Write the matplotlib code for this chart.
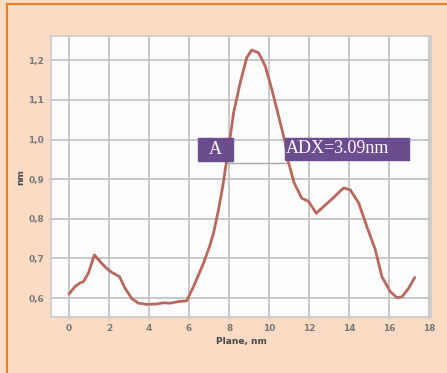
import matplotlib
matplotlib.use("Agg")
import matplotlib.pyplot as plt
from matplotlib.patches import Rectangle
from matplotlib.lines import Line2D
from matplotlib.ticker import FuncFormatter

# Height profile along the plane
plane_nm = [0.0, 0.3, 0.55, 0.72, 0.97, 1.27, 1.55, 1.88, 2.13, 2.52, 2.8, 3.13,
            3.47, 3.88, 4.38, 4.72, 5.05, 5.47, 5.88, 6.22, 6.72, 7.02, 7.22,
            7.47, 7.68, 7.83, 7.95, 8.22, 8.55, 8.88, 9.13, 9.47, 9.8, 10.13,
            10.47, 10.8, 10.95, 11.25, 11.63, 11.97, 12.35, 13.05, 13.72,
            14.05, 14.47, 14.88, 15.3, 15.63, 16.05, 16.38, 16.63, 16.97, 17.27]
height_nm = [0.610, 0.629, 0.638, 0.641, 0.663, 0.709, 0.692, 0.675, 0.665,
             0.654, 0.625, 0.599, 0.587, 0.584, 0.585, 0.588, 0.587, 0.591,
             0.593, 0.629, 0.688, 0.730, 0.764, 0.823, 0.882, 0.932, 0.970,
             1.067, 1.143, 1.207, 1.226, 1.219, 1.186, 1.127, 1.059, 0.992,
             0.945, 0.890, 0.852, 0.844, 0.814, 0.846, 0.878, 0.873, 0.840,
             0.780, 0.722, 0.654, 0.616, 0.601, 0.603, 0.625, 0.652]

x_ticks = [0, 2, 4, 6, 8, 10, 12, 14, 16, 18]
y_ticks = [0.6, 0.7, 0.8, 0.9, 1.0, 1.1, 1.2]

# Width measurement at the 0.94 nm level
adx_level = 0.94
adx_start = 7.85
adx_width = 3.09

peach = "#FBDBC4"
purple = "#6C4B8F"

fig = plt.figure(figsize=(4.47, 3.73), dpi=100, facecolor=peach)
ax = fig.add_axes([0.114, 0.150, 0.851, 0.753])
ax.set_facecolor("#FDFDFE")

ax.plot(plane_nm, height_nm, color="#B8675B", lw=2.0, solid_capstyle="round",
        zorder=3)

ax.set_xlim(-0.9, 18.1)
ax.set_ylim(0.552, 1.261)
ax.set_xticks(x_ticks)
ax.set_yticks(y_ticks)
ax.yaxis.set_major_formatter(FuncFormatter(lambda v, p: f"{v:.1f}".replace(".", ",")))
ax.grid(True, color="#C4C4C8", lw=1.3)
ax.set_axisbelow(True)

for s in ax.spines.values():
    s.set_color("#C9C9CC")
    s.set_linewidth(1.2)
ax.tick_params(axis="both", length=2, color="#C9C9CC", labelsize=6.5,
               labelcolor="#777777", pad=3)
for lbl in ax.get_xticklabels() + ax.get_yticklabels():
    lbl.set_fontweight("bold")

ax.set_xlabel("Plane, nm", fontsize=6.5, fontweight="bold", color="#444444",
              labelpad=3)
ax.set_ylabel("nm", fontsize=6.5, fontweight="bold", color="#444444",
              labelpad=2)

# Width marker and labels
ax.plot([adx_start, adx_start + adx_width], [adx_level, adx_level],
        color="#A8A8A8", lw=1.0, zorder=2)
ax.add_patch(Rectangle((6.45, 0.945), 1.73, 0.058, color=purple, zorder=4))
ax.text(7.3, 0.974, "A", color="white", fontsize=13,
        family="Liberation Serif", ha="center", va="center", zorder=5)
ax.add_patch(Rectangle((10.8, 0.948), 6.18, 0.056, color=purple, zorder=4))
ax.text(10.85, 0.977, f"ADX={adx_width:.2f}nm", color="white", fontsize=13,
        family="Liberation Serif", ha="left", va="center", zorder=5)

# Frame lines along the left and top edges
fig.add_artist(Line2D([6.5 / 447, 6.5 / 447], [0, 1 - 4 / 373],
                      transform=fig.transFigure, color="#F47A20", lw=1.5))
fig.add_artist(Line2D([6.5 / 447, 1], [1 - 4 / 373, 1 - 4 / 373],
                      transform=fig.transFigure, color="#F47A20", lw=1.5))

fig.savefig("out.png", dpi=100, facecolor=peach)
